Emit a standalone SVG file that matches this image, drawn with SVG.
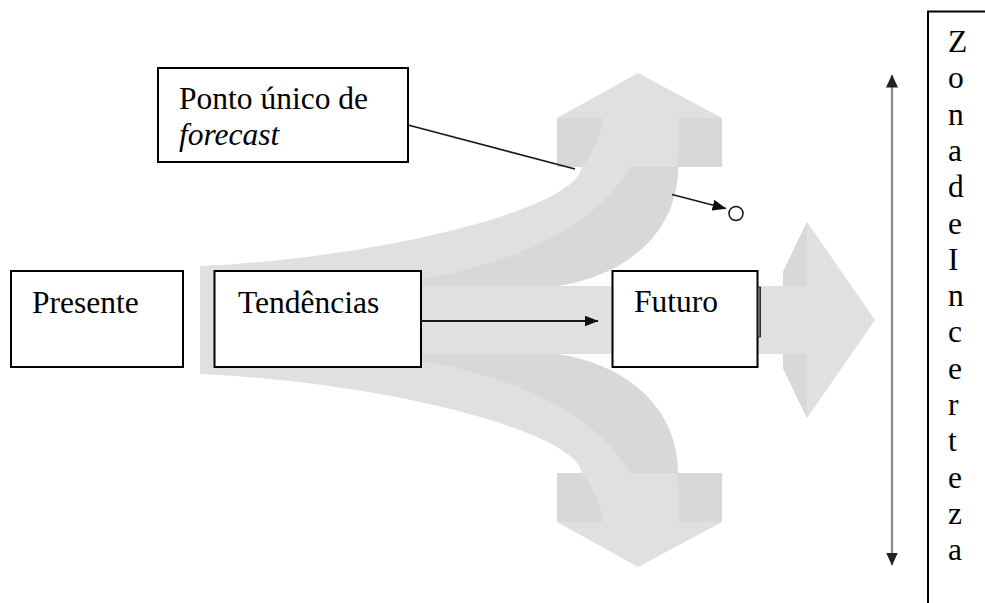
<svg xmlns="http://www.w3.org/2000/svg" width="985" height="603" viewBox="0 0 985 603">
<defs>
<style>
.box{fill:#fff;stroke:#000;stroke-width:2}
.t{font-family:"Liberation Serif","Times New Roman",serif;font-size:31.5px;fill:#000}
.g1{fill:#e0e0e2}
.g2{fill:#d8d8da}
.conn{stroke:#1a1a1a;stroke-width:1.8;fill:none}
</style>
<marker id="ah" viewBox="0 0 14 11" refX="13.5" refY="5.5" markerWidth="14" markerHeight="11" markerUnits="userSpaceOnUse" orient="auto"><path d="M0,0 L14,5.5 L0,11 Z" fill="#111"/></marker>
<marker id="ahv" viewBox="0 0 13 12" refX="12.5" refY="6" markerWidth="13" markerHeight="12" markerUnits="userSpaceOnUse" orient="auto-start-reverse"><path d="M0,0 L13,6 L0,12 Z" fill="#222"/></marker>
</defs>
<rect width="985" height="603" fill="#fff"/>

<g id="background-arrows">
  <rect class="g1" x="200" y="286" width="608" height="68"/>
  <path class="g1" d="M783,272 L807,222 L875,320 L807,418 L783,368 Z"/>
  <path class="g2" d="M783,272 L807,222 L807,286 L783,286 Z"/>
  <path class="g2" d="M783,368 L807,418 L807,354 L783,354 Z"/>
  <g id="upper-branch">
    <path class="g1" d="M200,290 L200,266 C380,258 575,210 582,167 L557,167 L557,118 L638,73 L722,118 L722,167 L678,167 C678,230 630,275 557,286 L557,290 Z"/>
    <path class="g2" d="M557,118 L603,118 C600,140 591,155 582,167 L557,167 Z"/>
    <path class="g2" d="M678,118 L722,118 L722,167 L677,167 C679,150 679,135 678,118 Z"/>
    <path class="g2" d="M630,167 L678,167 C678,230 630,275 557,286 L360,286 C470,280 590,240 630,167 Z"/>
  </g>
  <use href="#upper-branch" transform="matrix(1 0 0 -1 0 640)"/>
</g>

<g id="node-ponto">
  <rect class="box" x="158" y="68" width="250" height="94"/>
  <text class="t" x="179" y="109">Ponto único de</text>
  <text class="t" x="179" y="145" font-style="italic">forecast</text>
</g>

<g id="node-presente">
  <rect class="box" x="11" y="271" width="172" height="96"/>
  <text class="t" x="32" y="313">Presente</text>
</g>

<g id="node-tendencias">
  <rect class="box" x="214.5" y="271" width="206.5" height="96"/>
  <text class="t" x="238" y="313">Tendências</text>
</g>

<g id="node-futuro">
  <rect class="box" x="612.5" y="271" width="145" height="96"/>
  <rect x="757.5" y="287" width="3" height="50" fill="#666" stroke="#111" stroke-width="0.8"/>
  <text class="t" x="634" y="312">Futuro</text>
</g>

<g id="node-zona">
  <path d="M985,11.5 L928,11.5 L928,603" fill="none" stroke="#000" stroke-width="2"/>
  <text class="t" x="948" y="52"><tspan x="948">Z</tspan><tspan x="948" dy="36.3">o</tspan><tspan x="948" dy="36.3">n</tspan><tspan x="948" dy="36.3">a</tspan><tspan x="948" dy="36.3">d</tspan><tspan x="948" dy="36.3">e</tspan><tspan x="948" dy="36.3">I</tspan><tspan x="948" dy="36.3">n</tspan><tspan x="948" dy="36.3">c</tspan><tspan x="948" dy="36.3">e</tspan><tspan x="948" dy="36.3">r</tspan><tspan x="948" dy="36.3">t</tspan><tspan x="948" dy="36.3">e</tspan><tspan x="948" dy="36.3">z</tspan><tspan x="948" dy="36.3">a</tspan></text>
</g>

<g id="forecast-point">
  <circle cx="736" cy="213.5" r="7" fill="#fff" stroke="#111" stroke-width="1.5"/>
</g>

<g id="connectors">
  <path class="conn" d="M408,125 L575,169 M672,194.5 L726,208.5" marker-end="url(#ah)"/>
  <path class="conn" d="M421,321 L598,321" marker-end="url(#ah)"/>
  <path d="M892,75 L892,565" fill="none" stroke="#8a8a8a" stroke-width="2.2" marker-start="url(#ahv)" marker-end="url(#ahv)"/>
</g>
</svg>
